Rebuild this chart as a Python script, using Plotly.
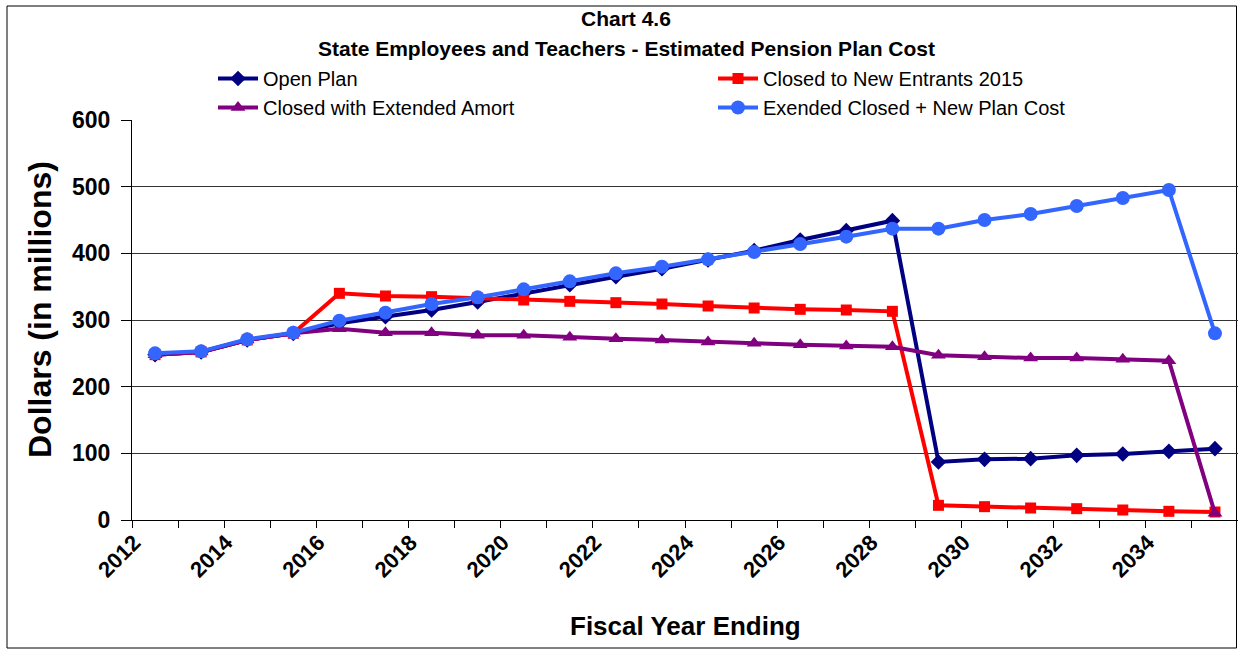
import plotly.graph_objects as go

years = list(range(2012, 2036))
tick_years = list(range(2012, 2036, 2))

open_plan = [248, 252, 270, 280, 295, 305, 315, 327, 340, 353, 365, 377,
             390, 404, 420, 434, 449, 87, 91, 92, 97, 99, 103, 107]
closed_2015 = [248, 252, 270, 280, 340, 336, 335, 333, 330, 328, 326, 324,
               321, 318, 316, 315, 313, 22, 20, 18, 17, 15, 13, 12]
extended_amort = [248, 252, 270, 280, 287, 281, 281, 277, 277, 274, 272, 270,
                  267, 265, 263, 261, 260, 247, 245, 243, 243, 241, 239, 10]
extended_new = [250, 253, 271, 281, 299, 311, 324, 334, 346, 358, 370, 380,
                391, 402, 414, 425, 437, 437, 450, 459, 471, 483, 495, 280]

series = [
    ("Open Plan", open_plan, "#000080", "diamond", 12),
    ("Closed to New Entrants 2015", closed_2015, "#FF0000", "square", 11),
    ("Closed with Extended Amort", extended_amort, "#800080", "triangle-up", 13),
    ("Exended Closed + New Plan Cost", extended_new, "#3366FF", "circle", 14),
]

FONT = "Arial, 'Liberation Sans', sans-serif"

fig = go.Figure()
for name, vals, color, sym, size in series:
    fig.add_trace(go.Scatter(
        x=years, y=vals, name=name, mode="lines+markers",
        line=dict(color=color, width=4),
        marker=dict(symbol=sym, size=size, color=color),
    ))

L, R, T, B = 132, 0, 120, 129
W, H = 1238, 649
pw, ph = W - L - R, H - T - B

def px_x(x):
    return (x - L) / pw

def px_y(y):
    return (H - B - y) / ph

fig.update_layout(
    width=W, height=H,
    margin=dict(l=L, r=R, t=T, b=B, autoexpand=False),
    paper_bgcolor="white", plot_bgcolor="white",
    font=dict(family=FONT, color="black"),
    showlegend=True,
    legend=dict(
        orientation="h", xref="container", yref="container",
        x=213 / W, xanchor="left", y=1 - 59 / H, yanchor="top",
        entrywidth=445, entrywidthmode="pixels", itemwidth=40,
        font=dict(size=20, family=FONT), bgcolor="rgba(0,0,0,0)",
        traceorder="normal", tracegroupgap=0,
    ),
    xaxis=dict(
        range=[2011.5, 2035.5], tickmode="array", tickvals=tick_years,
        ticktext=[str(y) for y in tick_years], ticks="", tickangle=-45,
        tickfont=dict(size=22, weight="bold", family=FONT),
        ticklabelshift=-21,
        showline=True, linecolor="black", linewidth=1, showgrid=False,
        zeroline=False,
        minor=dict(tickmode="array", tickvals=[2011.5 + i for i in range(25)],
                   ticks="outside", ticklen=7, tickcolor="black", tickwidth=1,
                   showgrid=False),
    ),
    yaxis=dict(
        range=[0, 600], dtick=100, ticks="outside", ticklen=10,
        tickcolor="black", showline=True, linecolor="black", linewidth=1,
        showgrid=True, gridcolor="#333333", gridwidth=1, zeroline=False,
        tickfont=dict(size=23, weight="bold", family=FONT),
        ticklabelstandoff=6,
    ),
    annotations=[
        dict(text="<b>Chart 4.6</b>", xref="paper", yref="paper",
             x=px_x(626), y=px_y(18), showarrow=False,
             font=dict(size=21, family=FONT), xanchor="center", yanchor="middle"),
        dict(text="<b>State Employees and Teachers - Estimated Pension Plan Cost</b>",
             xref="paper", yref="paper", x=px_x(626), y=px_y(48), showarrow=False,
             font=dict(size=21, family=FONT), xanchor="center", yanchor="middle"),
        dict(text="<b>Fiscal Year Ending</b>", xref="paper", yref="paper",
             x=px_x(685), y=px_y(626), showarrow=False,
             font=dict(size=26, family=FONT), xanchor="center", yanchor="middle"),
        dict(text="<b>Dollars (in millions)</b>", xref="paper", yref="paper",
             x=px_x(40), y=px_y(310), showarrow=False, textangle=-90,
             font=dict(size=32, family=FONT), xanchor="center", yanchor="middle"),
    ],
    shapes=[
        dict(type="rect", xref="paper", yref="paper",
             x0=px_x(7), x1=px_x(1236.5), y0=px_y(648), y1=px_y(6),
             line=dict(color="black", width=1), fillcolor="rgba(0,0,0,0)",
             layer="below"),
    ],
)

fig.write_html(
    "out.html",
    config={"displayModeBar": False},
    post_script="document.body.style.margin='0';document.body.style.overflow='hidden';",
)
